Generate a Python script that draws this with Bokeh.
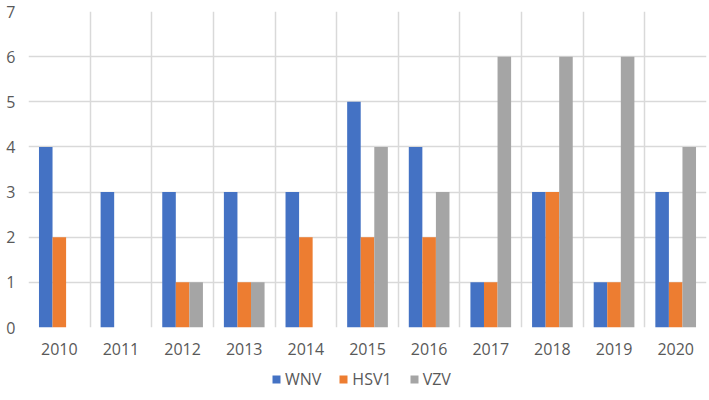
import numpy as np
from bokeh.plotting import figure
from bokeh.layouts import column
from bokeh.models import Range1d, FixedTicker, Legend, LegendItem
from bokeh.embed import file_html
from bokeh.resources import INLINE

years = ["2010", "2011", "2012", "2013", "2014", "2015", "2016", "2017", "2018", "2019", "2020"]
wnv = [4, 3, 3, 3, 3, 5, 4, 1, 3, 1, 3]
hsv1 = [2, 0, 1, 1, 2, 2, 2, 1, 3, 1, 1]
vzv = [0, 0, 1, 1, 0, 4, 3, 6, 6, 6, 4]
series_names = ["WNV", "HSV1", "VZV"]
colors = ["#4472C4", "#ED7D31", "#A5A5A5"]

n = len(years)
centers = np.arange(n) + 0.5
bw = 0.22
font = "Open Sans"
grid_col = "#D9D9D9"
text_col = "#595959"

p = figure(width=707, height=358, output_backend="svg", toolbar_location=None,
           x_range=Range1d(0, n), y_range=Range1d(0, 7),
           min_border_left=28, min_border_right=1, min_border_top=11, min_border_bottom=31)
p.outline_line_color = None

for vals, c, k in zip([wnv, hsv1, vzv], colors, range(3)):
    p.vbar(x=centers + (k - 1) * bw, top=vals, bottom=0, width=bw,
           fill_color=c, line_color=None)

p.xaxis.ticker = FixedTicker(ticks=list(centers))
p.xaxis.major_label_overrides = {float(c): y for c, y in zip(centers, years)}
p.yaxis.ticker = FixedTicker(ticks=list(range(0, 8)))
for ax in (p.xaxis[0], p.yaxis[0]):
    ax.axis_line_color = None
    ax.major_tick_line_color = None
    ax.minor_tick_line_color = None
    ax.major_tick_out = 0
    ax.major_tick_in = 0
    ax.major_label_text_font = font
    ax.major_label_text_font_size = "16px"
    ax.major_label_text_color = text_col
p.xaxis.major_label_standoff = 15
p.yaxis.major_label_standoff = 13

p.xgrid.ticker = FixedTicker(ticks=list(range(0, n + 1)))
for g in (p.xgrid[0], p.ygrid[0]):
    g.grid_line_color = grid_col
    g.grid_line_width = 1.5
    g.level = "underlay"

# legend strip below the chart
p2 = figure(width=707, height=42, output_backend="svg", toolbar_location=None,
            x_range=Range1d(0, n), y_range=Range1d(100, 101),
            min_border=0)
p2.outline_line_color = None
p2.axis.visible = False
p2.grid.visible = False
leg_r = []
for vals, c, k in zip([wnv, hsv1, vzv], colors, range(3)):
    leg_r.append(p2.vbar(x=centers + (k - 1) * bw, top=vals, bottom=0, width=bw,
                         fill_color=c, line_color=None))

legend = Legend(items=[LegendItem(label=nm, renderers=[r]) for nm, r in zip(series_names, leg_r)],
                orientation="horizontal", location=(243, 10),
                label_text_font=font, label_text_font_size="16px", label_text_color=text_col,
                glyph_width=10, glyph_height=10, spacing=17, label_standoff=4,
                border_line_color=None, background_fill_alpha=0, margin=0, padding=0)
p2.add_layout(legend, "center")

layout = column(p, p2, spacing=0)
open("out.html", "w").write(file_html(layout, INLINE))
